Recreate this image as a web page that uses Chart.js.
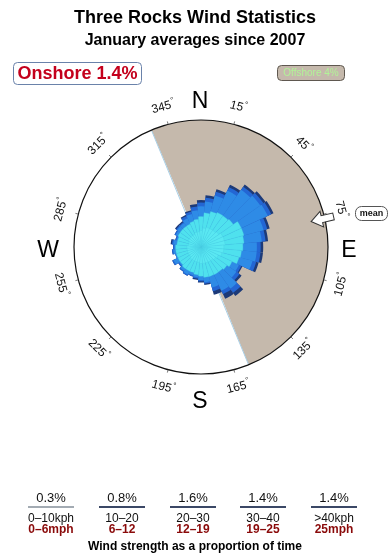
<!DOCTYPE html>
<html>
<head>
<meta charset="utf-8">
<script src="https://cdn.jsdelivr.net/npm/chart.js@4/dist/chart.umd.min.js"></script>
<style>
  html, body { margin: 0; padding: 0; background: #fff; }
  #wrap { position: relative; width: 390px; height: 560px; }
</style>
</head>
<body>
<div id="wrap"><canvas id="rose" width="390" height="560"></canvas></div>
<script>
// ==================== data ====================
// direction sectors (degrees, sector centre), 10 degree bins
const directions = [0, 10, 20, 30, 40, 50, 60, 70, 80, 90, 100, 110, 120, 130, 140, 150, 160, 170,
  180, 190, 200, 210, 220, 230, 240, 250, 260, 270, 280, 290, 300, 310, 320, 330, 340, 350];

const kph0_10  = [1.3, 1.5, 1.6, 1.6, 1.6, 1.7, 1.9, 1.9, 1.9, 1.8, 1.8, 1.7, 1.5, 1.4, 1.3, 1.3, 1.3, 1.3,
  1.3, 1.2, 1.2, 1.2, 1.2, 1.1, 1.1, 1.1, 1.1, 1.1, 1.0, 1.0, 1.1, 1.1, 1.1, 1.1, 1.2, 1.2];
const kph10_20 = [1.1, 1.2, 1.3, 1.4, 1.4, 1.4, 1.6, 1.6, 1.5, 1.5, 1.4, 1.4, 1.2, 1.1, 1.1, 1.1, 1.1, 1.1,
  1.0, 1.0, 0.9, 0.9, 0.9, 0.9, 0.9, 0.9, 0.9, 0.9, 0.9, 0.9, 0.9, 0.9, 0.9, 0.9, 0.9, 1.0];
const kph20_30 = [0.8, 0.9, 1.3, 1.9, 2.5, 2.6, 2.3, 1.6, 1.4, 1.1, 1.2, 1.1, 0.6, 0.9, 1.6, 1.4, 0.9, 0.4,
  0.3, 0.2, 0.2, 0.3, 0.2, 0.1, 0.4, 0.1, 0.2, 0.1, 0.3, 0.1, 0.2, 0.3, 0.3, 0.5, 0.6, 0.7];
const kph30_40 = [0.3, 0.3, 0.3, 0.3, 0.3, 0.3, 0.3, 0.3, 0.3, 0.3, 0.3, 0.3, 0.2, 0.3, 0.4, 0.3, 0.3, 0.1,
  0.1, 0.1, 0.1, 0.1, 0.1, 0.1, 0.1, 0.0, 0.1, 0.1, 0.1, 0.1, 0.1, 0.1, 0.1, 0.2, 0.2, 0.3];
const kph40up  = [0.2, 0.2, 0.2, 0.2, 0.2, 0.2, 0.2, 0.2, 0.2, 0.2, 0.2, 0.2, 0.1, 0.2, 0.3, 0.4, 0.3, 0.1,
  0.1, 0.1, 0.0, 0.0, 0.0, 0.0, 0.0, 0.0, 0.0, 0.0, 0.1, 0.0, 0.0, 0.1, 0.1, 0.1, 0.1, 0.2];

const speedColors = ['#5ae8f2', '#4fe1ee', '#2e8be6', '#2366d4', '#1d3a78'];

// legend below the rose
const legendPercent = ['0.3%', '0.8%', '1.6%', '1.4%', '1.4%'];
const legendKph = ['0–10kph', '10–20', '20–30', '30–40', '>40kph'];
const legendMph = ['0–6mph', '6–12', '12–19', '19–25', '25mph'];
const legendLine = ['#a3abb3', '#3b4866', '#3b4866', '#3b4866', '#3b4866'];

// compass decorations
const degreeTicks = [15, 45, 75, 105, 135, 165, 195, 225, 255, 285, 315, 345];
const offshoreFrom = 337;   // offshore sector, clockwise
const offshoreTo = 158;
const meanBearing = 77;

// ==================== chart ====================
const FONT = '"Liberation Sans", Arial, Helvetica, sans-serif';
const rad = d => (d - 90) * Math.PI / 180;

// cumulative values so that each ring sits on the one inside it
const bins = [kph0_10, kph10_20, kph20_30, kph30_40, kph40up];
const stacked = bins.map((_, i) =>
  directions.map((d, k) => bins.slice(0, i + 1).reduce((s, b) => s + b[k], 0)));

function text(ctx, str, x, y, font, color, align = 'center') {
  ctx.font = font;
  ctx.fillStyle = color;
  ctx.textAlign = align;
  ctx.textBaseline = 'middle';
  ctx.fillText(str, x, y);
}

function roundRect(ctx, x, y, w, h, r, fill, stroke) {
  ctx.beginPath();
  ctx.roundRect(x, y, w, h, r);
  if (fill) { ctx.fillStyle = fill; ctx.fill(); }
  if (stroke) { ctx.strokeStyle = stroke; ctx.lineWidth = 1; ctx.stroke(); }
}

const roseDecor = {
  id: 'roseDecor',
  beforeDatasetsDraw(chart) {
    const { ctx } = chart;
    const s = chart.scales.r;
    const cx = s.xCenter, cy = s.yCenter, R = s.drawingArea;
    ctx.save();
    // offshore half of the disc
    ctx.beginPath();
    ctx.moveTo(cx, cy);
    ctx.arc(cx, cy, R, rad(offshoreFrom), rad(offshoreTo + 360));
    ctx.closePath();
    ctx.fillStyle = '#c5b9ac';
    ctx.fill();
    ctx.beginPath();
    ctx.moveTo(cx + R * Math.cos(rad(offshoreFrom)), cy + R * Math.sin(rad(offshoreFrom)));
    ctx.lineTo(cx + R * Math.cos(rad(offshoreTo)), cy + R * Math.sin(rad(offshoreTo)));
    ctx.strokeStyle = '#a9cfe6';
    ctx.lineWidth = 1;
    ctx.stroke();
    ctx.restore();
  },
  afterDatasetsDraw(chart) {
    const { ctx } = chart;
    const s = chart.scales.r;
    const cx = s.xCenter, cy = s.yCenter, R = s.drawingArea;
    ctx.save();

    // outer circle and ticks
    ctx.beginPath();
    ctx.arc(cx, cy, R, 0, Math.PI * 2);
    ctx.strokeStyle = '#111';
    ctx.lineWidth = 1.2;
    ctx.stroke();
    degreeTicks.forEach(b => {
      const a = rad(b);
      ctx.beginPath();
      ctx.moveTo(cx + R * Math.cos(a), cy + R * Math.sin(a));
      ctx.lineTo(cx + (R + 3) * Math.cos(a), cy + (R + 3) * Math.sin(a));
      ctx.strokeStyle = '#555';
      ctx.lineWidth = 0.8;
      ctx.stroke();

      let rot = b > 180 ? b - 360 : b;
      if (rot > 90) rot -= 180;
      if (rot < -90) rot += 180;
      const lr = 145;
      ctx.save();
      ctx.translate(cx + lr * Math.cos(a), cy + lr * Math.sin(a));
      ctx.rotate(rot * Math.PI / 180);
      ctx.font = '12px ' + FONT;
      const num = String(b);
      const w = ctx.measureText(num).width;
      text(ctx, num, -w / 2 - 2, 0, '12px ' + FONT, '#111', 'left');
      text(ctx, '°', w / 2 - 1.5, -4, '8px ' + FONT, '#111', 'left');
      ctx.restore();
    });

    // compass letters
    text(ctx, 'N', 200, 102, '23px ' + FONT, '#000');
    text(ctx, 'S', 200, 402, '23px ' + FONT, '#000');
    text(ctx, 'W', 48, 251, '23px ' + FONT, '#000');
    text(ctx, 'E', 349, 251, '23px ' + FONT, '#000');

    // mean direction arrow
    ctx.save();
    ctx.translate(cx, cy);
    ctx.rotate(rad(meanBearing));
    ctx.beginPath();
    ctx.moveTo(113, 0);
    ctx.lineTo(124, -8);
    ctx.lineTo(124, -3.5);
    ctx.lineTo(136, -3.5);
    ctx.lineTo(136, 3.5);
    ctx.lineTo(124, 3.5);
    ctx.lineTo(124, 8);
    ctx.closePath();
    ctx.fillStyle = '#fff';
    ctx.fill();
    ctx.strokeStyle = '#333';
    ctx.lineWidth = 1;
    ctx.stroke();
    ctx.restore();
    roundRect(ctx, 355.5, 206.5, 32, 14, 6, '#fff', '#555');
    text(ctx, 'mean', 371.5, 214, 'bold 9px ' + FONT, '#111');

    // titles and boxes
    text(ctx, 'Three Rocks Wind Statistics', 195, 18, 'bold 18px ' + FONT, '#000');
    text(ctx, 'January averages since 2007', 195, 41, 'bold 16px ' + FONT, '#000');
    roundRect(ctx, 13.5, 62.5, 128, 22, 4, '#fff', '#6a82aa');
    text(ctx, 'Onshore 1.4%', 77.5, 74, 'bold 18px ' + FONT, '#c4001c');
    roundRect(ctx, 277.5, 65.5, 67, 15, 4, '#c5b9ac', '#5f5850');
    text(ctx, 'Offshore 4%', 311, 73.5, '10px ' + FONT, '#b2f398');

    // speed legend
    const cols = [51, 122, 193, 263, 334];
    cols.forEach((x, i) => {
      text(ctx, legendPercent[i], x, 498, '13px ' + FONT, '#111');
      ctx.fillStyle = legendLine[i];
      ctx.fillRect(x - 23, 506, 46, 2);
      text(ctx, legendKph[i], x, 519, '12px ' + FONT, '#111');
      text(ctx, legendMph[i], x, 530, 'bold 12px ' + FONT, '#8a0a0a');
    });
    text(ctx, 'Wind strength as a proportion of time', 195, 547, 'bold 12px ' + FONT, '#000');

    ctx.restore();
  }
};

new Chart(document.getElementById('rose'), {
  type: 'polarArea',
  data: {
    labels: directions.map(d => d + '°'),
    datasets: stacked.map((vals, i) => ({
      label: legendKph[i],
      data: vals,
      backgroundColor: speedColors[i],
      borderColor: i < 2 ? 'rgba(70,200,225,0.6)' : speedColors[i],
      borderWidth: i < 2 ? 0.5 : 0
    }))
  },
  options: {
    responsive: false,
    animation: false,
    devicePixelRatio: 1,
    layout: { padding: { left: 74, right: 62, top: 120, bottom: 186 } },
    plugins: { legend: { display: false }, tooltip: { enabled: false } },
    scales: {
      r: {
        min: 0,
        max: 10,
        startAngle: -5,
        grid: { display: false },
        angleLines: { display: false },
        ticks: { display: false },
        pointLabels: { display: false }
      }
    }
  },
  plugins: [roseDecor]
});
</script>
</body>
</html>
